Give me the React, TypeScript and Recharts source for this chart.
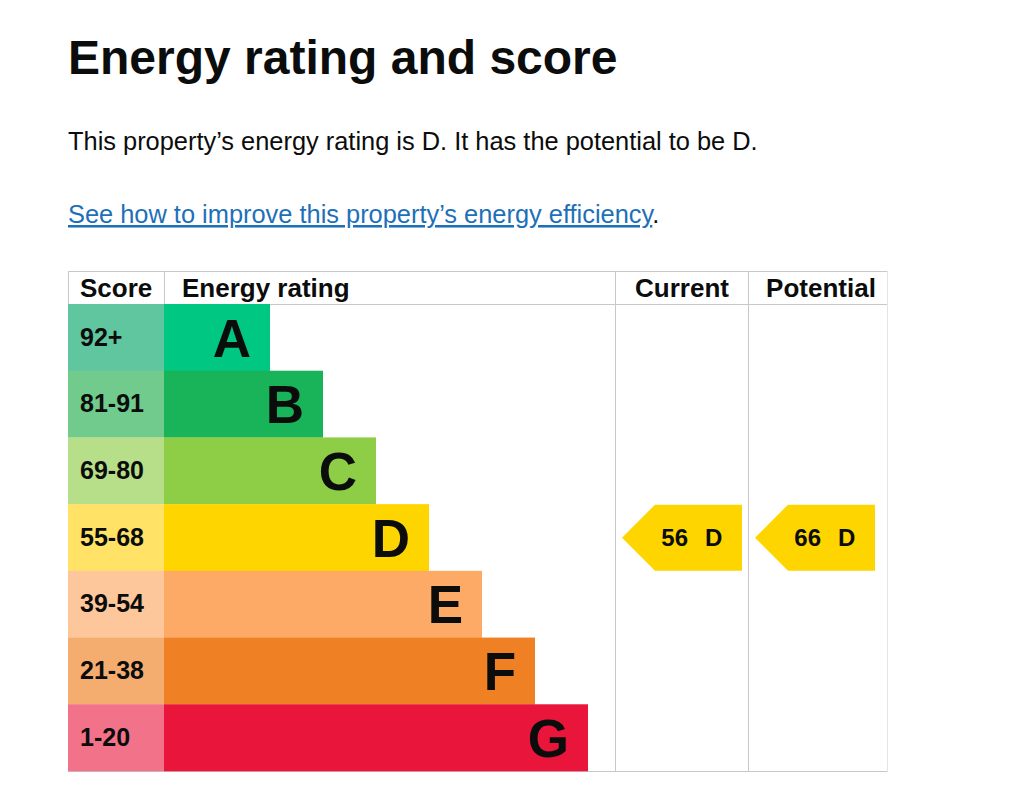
import React from 'react';
import { BarChart, Bar, XAxis, YAxis } from 'recharts';

// ---- data ----
const bands = ['A', 'B', 'C', 'D', 'E', 'F', 'G'];
const scoreRanges = ['92+', '81-91', '69-80', '55-68', '39-54', '21-38', '1-20'];
const scoreMins = [92, 81, 69, 55, 39, 21, 1];
const barLengths = [2, 3, 4, 5, 6, 7, 8];
const bandColors = ['#00c781', '#19b459', '#8dce46', '#ffd500', '#fcaa65', '#ef8023', '#e9153b'];
const scoreColors = ['#5fc6a0', '#70cb8c', '#b7de89', '#ffe266', '#fec79b', '#f4ad6f', '#f27389'];
const currentScore = 56;
const potentialScore = 66;
const columnHeaders = ['Score', 'Energy rating', 'Current', 'Potential'];

const data = bands.map((band, i) => ({
  band,
  range: scoreRanges[i],
  length: barLengths[i],
  color: bandColors[i],
  scoreColor: scoreColors[i],
}));

const bandOf = (score: number) => {
  const idx = scoreMins.findIndex((m) => score >= m);
  return bands[idx];
};

// ---- layout ----
const FONT = '"Liberation Sans", Arial, sans-serif';
const TABLE_LEFT = 68;
const SCORE_W = 96;
const PLOT_LEFT = 164;
const CUR_LEFT = 615;
const POT_LEFT = 748;
const TABLE_RIGHT = 887;
const HEADER_TOP = 271;
const BODY_TOP = 304;
const BODY_BOTTOM = 771;
const PLOT_RIGHT = 588;
const GRID = '#c8c8c8';

const Arrow = ({ left, y, h, score, band }: any) => {
  const x0 = left + 7;
  const cy = y + h / 2;
  const path = `M${x0},${cy} L${x0 + 33},${y + 0.5} L${x0 + 120},${y + 0.5} L${x0 + 120},${y + h - 0.5} L${x0 + 33},${y + h - 0.5} Z`;
  return (
    <g>
      <path d={path} fill="#ffd500" />
      <text x={x0 + 66} y={cy + 8.5} textAnchor="end" fontFamily={FONT} fontWeight="bold" fontSize={24} fill="#0b0c0c">
        {score}
      </text>
      <text x={x0 + 83} y={cy + 8.5} textAnchor="start" fontFamily={FONT} fontWeight="bold" fontSize={24} fill="#0b0c0c">
        {band}
      </text>
    </g>
  );
};

const RowShape = (props: any) => {
  const { x, y, width, height, payload } = props;
  const cy = y + height / 2;
  return (
    <g>
      <rect x={x - SCORE_W} y={y} width={SCORE_W} height={height} fill={payload.scoreColor} />
      <text x={x - SCORE_W + 12} y={cy + 8} fontFamily={FONT} fontWeight="bold" fontSize={25} fill="#0b0c0c">
        {payload.range}
      </text>
      <rect x={x} y={y} width={width} height={height} fill={payload.color} />
      <text x={x + width - 19} y={cy + 19} textAnchor="end" fontFamily={FONT} fontWeight="bold" fontSize={53} fill="#0b0c0c">
        {payload.band}
      </text>
      {bandOf(currentScore) === payload.band && (
        <Arrow left={CUR_LEFT} y={y} h={height} score={currentScore} band={payload.band} />
      )}
      {bandOf(potentialScore) === payload.band && (
        <Arrow left={POT_LEFT} y={y} h={height} score={potentialScore} band={payload.band} />
      )}
    </g>
  );
};

const TableFrame = () => (
  <g>
    <line x1={TABLE_LEFT} y1={HEADER_TOP + 0.5} x2={TABLE_RIGHT} y2={HEADER_TOP + 0.5} stroke={GRID} />
    <line x1={TABLE_LEFT} y1={BODY_TOP + 0.5} x2={TABLE_RIGHT} y2={BODY_TOP + 0.5} stroke={GRID} />
    <line x1={TABLE_LEFT} y1={BODY_BOTTOM + 0.5} x2={TABLE_RIGHT} y2={BODY_BOTTOM + 0.5} stroke={GRID} />
    <line x1={TABLE_LEFT + 0.5} y1={HEADER_TOP} x2={TABLE_LEFT + 0.5} y2={BODY_TOP} stroke={GRID} />
    <line x1={PLOT_LEFT + 0.5} y1={HEADER_TOP} x2={PLOT_LEFT + 0.5} y2={BODY_TOP} stroke={GRID} />
    <line x1={CUR_LEFT + 0.5} y1={HEADER_TOP} x2={CUR_LEFT + 0.5} y2={BODY_BOTTOM + 1} stroke={GRID} />
    <line x1={POT_LEFT + 0.5} y1={HEADER_TOP} x2={POT_LEFT + 0.5} y2={BODY_BOTTOM + 1} stroke={GRID} />
    <line x1={TABLE_RIGHT + 0.5} y1={HEADER_TOP} x2={TABLE_RIGHT + 0.5} y2={BODY_BOTTOM + 1} stroke="#e4e4e4" />
    <g fontFamily={FONT} fontWeight="bold" fontSize={26} fill="#0b0c0c">
      <text x={80} y={297}>{columnHeaders[0]}</text>
      <text x={182} y={297}>{columnHeaders[1]}</text>
      <text x={682} y={297} textAnchor="middle">{columnHeaders[2]}</text>
      <text x={821} y={297} textAnchor="middle">{columnHeaders[3]}</text>
    </g>
  </g>
);

export default function App() {
  return (
    <div style={{ position: 'absolute', left: 0, top: 0, width: 1024, height: 794, background: '#fff' }}>
      <svg width={1024} height={260} style={{ position: 'absolute', left: 0, top: 0 }}>
        <text x={68} y={74} fontFamily={FONT} fontWeight="bold" fontSize={48} fill="#0b0c0c">
          Energy rating and score
        </text>
        <text x={68} y={150} fontFamily={FONT} fontSize={25.4} fill="#0b0c0c">
          This property’s energy rating is D. It has the potential to be D.
        </text>
        <text x={68} y={223} fontFamily={FONT} fontSize={25.4} fill="#0b0c0c">
          <tspan fill="#1d70b8" textDecoration="underline" style={{ textDecoration: 'underline' }}>
            See how to improve this property’s energy efficiency
          </tspan>
          <tspan>.</tspan>
        </text>
      </svg>
      <div style={{ position: 'absolute', left: 0, top: 0 }}>
        <BarChart
          width={1024}
          height={794}
          data={data}
          layout="vertical"
          barCategoryGap={0}
          margin={{ top: BODY_TOP, left: PLOT_LEFT, right: 1024 - PLOT_RIGHT, bottom: 794 - BODY_BOTTOM }}
        >
          <XAxis type="number" domain={[0, 8]} hide />
          <YAxis type="category" dataKey="band" hide />
          <TableFrame />
          <Bar dataKey="length" isAnimationActive={false} shape={RowShape} />
        </BarChart>
      </div>
    </div>
  );
}
